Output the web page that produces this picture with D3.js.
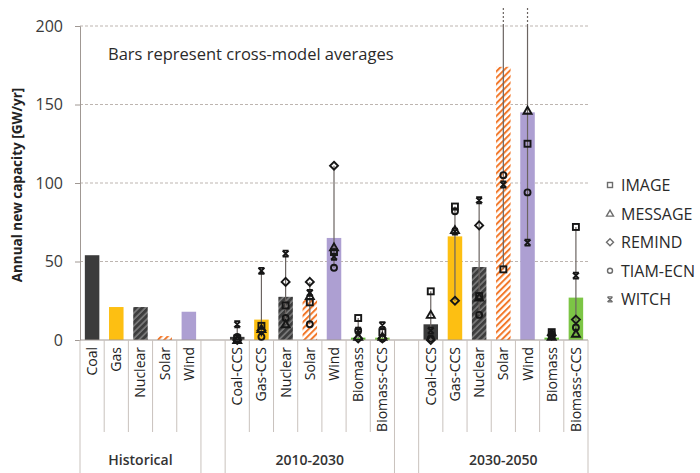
<!DOCTYPE html>
<html lang="en">
<head>
<meta charset="UTF-8">
<title>Annual new capacity</title>
<script src="https://d3js.org/d3.v7.min.js"></script>
<style>
  body { margin: 0; background: #fff; }
  svg text { font-family: "Open Sans", sans-serif; fill: #333; }
</style>
</head>
<body>
<div id="chart"></div>
<script>
// category slots on the x axis ("" = empty spacer slot)
const categories = ["Coal", "Gas", "Nuclear", "Solar", "Wind", "",
  "Coal-CCS", "Gas-CCS", "Nuclear", "Solar", "Wind", "Biomass", "Biomass-CCS", "",
  "Coal-CCS", "Gas-CCS", "Nuclear", "Solar", "Wind", "Biomass", "Biomass-CCS"];
const groupLabels = ["Historical", "", "2010-2030", "", "2030-2050"];
const groupSizes = [5, 1, 7, 1, 7];
const yTicks = [0, 50, 100, 150, 200];

// bars = cross-model averages
const barValues = [54, 21, 21, 2.5, 18, null,
  2, 13, 27.5, 25.5, 65, 1.5, 1.5, null,
  10, 66, 46.5, 174, 145, 1.5, 27];

// individual model results (null = not shown)
const models = ["IMAGE", "MESSAGE", "REMIND", "TIAM-ECN", "WITCH"];
const imageVals   = [null, null, null, null, null, null, 1, 9, 22, 24, 56, 14, 5, null, 31, 85, 28, 45, 125, 5, 72];
const messageVals = [null, null, null, null, null, null, 0, 7, 10, 28, 59, 2, 2, null, 16, 70, 27, 250, 146, 2, 4];
const remindVals  = [null, null, null, null, null, null, 0, 6, 37, 37, 111, 1, 1, null, 0, 25, 73, 370, 295, 3, 13];
const tiamVals    = [null, null, null, null, null, null, 2, 2, 14, 10, 46, 6, 1, null, 1, 82, 16, 105, 94, 4, 8];
const witchVals   = [null, null, null, null, null, null, 10, 44, 55, 30, 53, 6, 9.5, null, 6, 69, 89, 99, 62, 3, 41];
const modelVals = [imageVals, messageVals, remindVals, tiamVals, witchVals];

const W = 700, H = 473;
const margin = { top: 26, left: 80, right: 112, bottom: 133 };
const plotBottom = H - margin.bottom;   // y of the zero line

const svg = d3.select("#chart").append("svg")
  .attr("width", W).attr("height", H);

const defs = svg.append("defs");
// hatch patterns for nuclear and solar
function hatch(id, bg, stripe, sw) {
  const p = defs.append("pattern").attr("id", id)
    .attr("patternUnits", "userSpaceOnUse")
    .attr("width", 4.5).attr("height", 4.5)
    .attr("patternTransform", "rotate(45)");
  p.append("rect").attr("width", 4.5).attr("height", 4.5).attr("fill", bg);
  p.append("line").attr("x1", 1).attr("x2", 1).attr("y1", 0).attr("y2", 4.5)
    .attr("stroke", stripe).attr("stroke-width", sw);
}
hatch("hNuclear", "#3d3d3d", "#8c8c8c", 1.3);
hatch("hSolar", "#ffffff", "#f2782a", 2);

const techFill = {
  "Coal": "#3b3b3b", "Coal-CCS": "#3b3b3b",
  "Gas": "#fdbf12", "Gas-CCS": "#fdbf12",
  "Nuclear": "url(#hNuclear)", "Solar": "url(#hSolar)",
  "Wind": "#ad9fd2", "Biomass": "#62c03a", "Biomass-CCS": "#7cc545"
};

const x = d3.scaleBand()
  .domain(d3.range(categories.length))
  .range([margin.left, W - margin.right]);

const y = d3.scaleLinear().domain([0, 200]).range([plotBottom, margin.top]);

// gridlines
svg.append("g").selectAll("line")
  .data(yTicks.filter(d => d > 0))
  .join("line")
  .attr("x1", margin.left).attr("x2", W - margin.right)
  .attr("y1", d => y(d)).attr("y2", d => y(d))
  .attr("stroke", "#bdb5b0").attr("stroke-width", 1)
  .attr("stroke-dasharray", "3,2");

// y axis
const yAxis = svg.append("g")
  .attr("transform", `translate(${margin.left},0)`)
  .call(d3.axisLeft(y).tickValues(yTicks).tickSize(5).tickPadding(12));
yAxis.select(".domain").attr("stroke", "#a09893");
yAxis.selectAll(".tick line").attr("stroke", "#a09893");
yAxis.selectAll("text")
  .attr("font-size", "16px")
  .style("font-family", "Open Sans, sans-serif").style("fill", "#3a3a3a");

svg.append("text")
  .attr("transform", `translate(22,${(margin.top + plotBottom) / 2 + 2}) rotate(-90)`)
  .attr("text-anchor", "middle")
  .attr("font-size", "13.5px").attr("font-weight", "bold")
  .style("fill", "#222")
  .text("Annual new capacity [GW/yr]");

// annotation
svg.append("text")
  .attr("x", 108).attr("y", 60)
  .attr("font-size", "16.5px")
  .style("fill", "#2a2a2a")
  .text("Bars represent cross-model averages");

// bars
svg.append("g").selectAll("rect")
  .data(barValues.map((v, i) => ({ v, i })).filter(d => d.v != null))
  .join("rect")
  .attr("x", d => x(d.i) + x.bandwidth() * 0.2)
  .attr("width", x.bandwidth() * 0.6)
  .attr("y", d => y(d.v))
  .attr("height", d => y(0) - y(d.v))
  .attr("fill", d => techFill[categories[d.i]]);

// x axis line
svg.append("line")
  .attr("x1", margin.left).attr("x2", W - margin.right)
  .attr("y1", plotBottom).attr("y2", plotBottom)
  .attr("stroke", "#a09893");

// whiskers from model min to max
const topClip = y.invert(margin.top - 19);
const ranges = categories.map((c, i) => {
  const vals = modelVals.map(a => a[i]).filter(v => v != null);
  return vals.length ? { i, lo: d3.min(vals), hi: d3.max(vals) } : null;
}).filter(d => d);

const wh = svg.append("g");
wh.selectAll("line.w")
  .data(ranges)
  .join("line").attr("class", "w")
  .attr("x1", d => x(d.i) + x.bandwidth() / 2)
  .attr("x2", d => x(d.i) + x.bandwidth() / 2)
  .attr("y1", d => y(d.lo))
  .attr("y2", d => y(Math.min(d.hi, 200)))
  .attr("stroke", "#6b6461").attr("stroke-width", 1.2);
// part above the axis top is drawn dotted
wh.selectAll("line.over")
  .data(ranges.filter(d => d.hi > 200))
  .join("line").attr("class", "over")
  .attr("x1", d => x(d.i) + x.bandwidth() / 2)
  .attr("x2", d => x(d.i) + x.bandwidth() / 2)
  .attr("y1", y(200))
  .attr("y2", d => y(Math.min(d.hi, topClip)))
  .attr("stroke", "#6b6461").attr("stroke-width", 1.2)
  .attr("stroke-dasharray", "2,2");

// marker shapes per model
function drawMarker(g, m, cx, cy, s, color, sw) {
  const h = s / 2;
  let el;
  if (m === 0) {
    el = g.append("rect").attr("x", cx - h).attr("y", cy - h).attr("width", s).attr("height", s);
  } else if (m === 1) {
    el = g.append("path").attr("d", `M${cx},${cy - h - 1}L${cx + h + 1},${cy + h}L${cx - h - 1},${cy + h}Z`);
  } else if (m === 2) {
    el = g.append("path").attr("d", `M${cx},${cy - h - 1}L${cx + h + 1},${cy}L${cx},${cy + h + 1}L${cx - h - 1},${cy}Z`);
  } else if (m === 3) {
    el = g.append("circle").attr("cx", cx).attr("cy", cy).attr("r", h);
  } else {
    el = g.append("path").attr("d",
      `M${cx - h},${cy - h}L${cx + h},${cy + h}M${cx + h},${cy - h}L${cx - h},${cy + h}` +
      `M${cx - h},${cy - h}L${cx + h},${cy - h}M${cx - h},${cy + h}L${cx + h},${cy + h}`);
  }
  el.attr("stroke", color).attr("stroke-width", sw).attr("fill", "none");
}

const mk = svg.append("g");
modelVals.forEach((arr, m) => {
  arr.forEach((v, i) => {
    if (v == null || v > 200) return;
    drawMarker(mk, m, x(i) + x.bandwidth() / 2, y(v), 6, "#161616", 1.9);
  });
});

// category labels
const labelTop = plotBottom + 7;
svg.append("g").selectAll("text")
  .data(categories.map((c, i) => ({ c, i })).filter(d => d.c))
  .join("text")
  .attr("transform", d => `translate(${x(d.i) + x.bandwidth() / 2 + 5},${labelTop}) rotate(-90)`)
  .attr("text-anchor", "end")
  .attr("font-size", "14px")
  .style("fill", "#222")
  .text(d => d.c);

// separators between categories and between groups
const groupStarts = groupSizes.map((s, k) => d3.sum(groupSizes.slice(0, k)));
const groupBounds = groupStarts.concat([categories.length]);
const sep = svg.append("g").attr("stroke", "#c9c2bd").attr("stroke-width", 1);
d3.range(1, categories.length).forEach(i => {
  if (groupBounds.includes(i)) return;
  sep.append("line")
    .attr("x1", x(i)).attr("x2", x(i))
    .attr("y1", plotBottom).attr("y2", plotBottom + 92);
});
groupBounds.forEach(i => {
  const xx = i < categories.length ? x(i) : W - margin.right;
  sep.append("line")
    .attr("x1", xx).attr("x2", xx)
    .attr("y1", plotBottom).attr("y2", H);
});

// group labels
svg.append("g").selectAll("text")
  .data(groupLabels.map((g, k) => ({ g, k })).filter(d => d.g))
  .join("text")
  .attr("x", d => (x(groupStarts[d.k]) + (groupBounds[d.k + 1] < categories.length ? x(groupBounds[d.k + 1]) : W - margin.right)) / 2)
  .attr("y", 465)
  .attr("text-anchor", "middle")
  .attr("font-size", "14px").attr("font-weight", 600)
  .style("fill", "#333")
  .text(d => d.g);

// legend
const lg = svg.append("g");
models.forEach((name, m) => {
  const ly = 185 + m * 28.6;
  drawMarker(lg, m, 610, ly, 5, "#6d6d6d", 1.4);
  lg.append("text")
    .attr("x", 621).attr("y", ly + 6)
    .attr("font-size", "16px")
    .style("fill", "#2a2a2a")
    .text(name);
});
</script>
</body>
</html>
